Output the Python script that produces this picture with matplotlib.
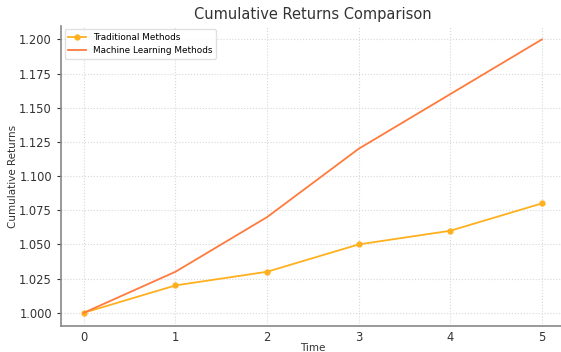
import matplotlib
matplotlib.use("Agg")
import matplotlib.pyplot as plt

time = [0, 1, 2, 3, 4, 5]
traditional = [1.00, 1.02, 1.03, 1.05, 1.06, 1.08]
machine_learning = [1.00, 1.03, 1.07, 1.12, 1.16, 1.20]

fig = plt.figure(figsize=(5.61, 3.52), dpi=100)
ax = fig.add_axes([0.1087, 0.0727, 0.898, 0.854])

ax.plot(time, traditional, marker='o', markersize=3.5, color='#ffb01f',
        linewidth=1.3, label='Traditional Methods')
ax.plot(time, machine_learning, color='#ff7a3c', linewidth=1.3,
        label='Machine Learning Methods')

ax.set_title('Cumulative Returns Comparison', fontsize=10.5, color='#333333', pad=5)
ax.set_xlabel('Time', fontsize=7.5, color='#333333')
ax.xaxis.set_label_coords(0.5, -0.054)
ax.set_ylabel('Cumulative Returns', fontsize=7.5, color='#333333', labelpad=1)

ax.set_yticks([1.000, 1.025, 1.050, 1.075, 1.100, 1.125, 1.150, 1.175, 1.200])
ax.yaxis.set_major_formatter(matplotlib.ticker.FormatStrFormatter('%.3f'))
ax.tick_params(labelsize=8.3, colors='#333333', length=3, width=0.8)
ax.tick_params(axis='x', length=0, pad=3)

ax.grid(True, linestyle=':', color='#d8d8d8', linewidth=0.8)
for side in ['top', 'right']:
    ax.spines[side].set_visible(False)
for side in ['left', 'bottom']:
    ax.spines[side].set_color('#888888')
    ax.spines[side].set_linewidth(1.2)

ax.legend(loc='upper left', fontsize=6.4, frameon=True, framealpha=0.9,
          edgecolor='#dddddd', borderaxespad=0.4)

fig.savefig('out.png', dpi=100)
